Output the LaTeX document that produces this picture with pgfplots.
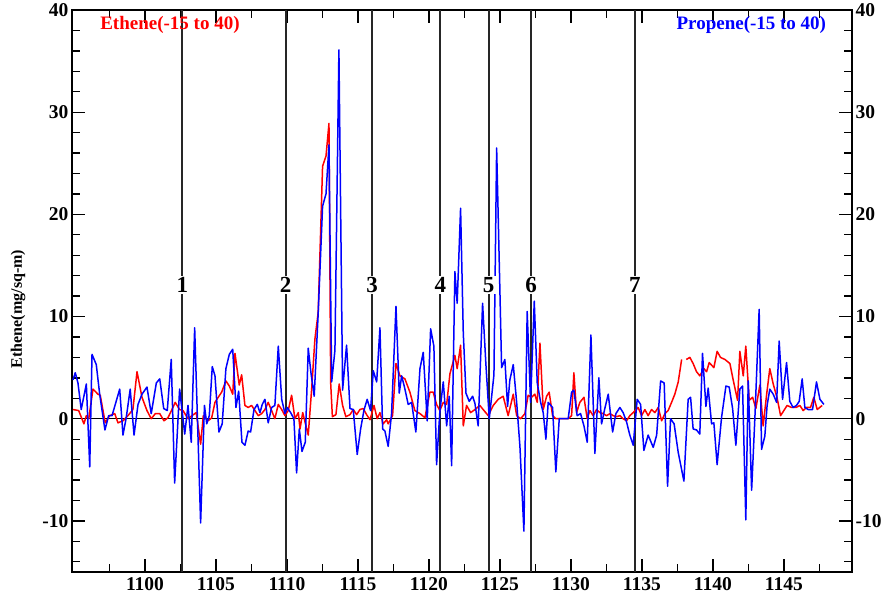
\documentclass[border=0pt]{standalone}
\usepackage{fontspec}
\setmainfont{Liberation Serif}
\usepackage{pgfplots}
\pgfplotsset{compat=1.18}
\begin{document}
\begin{tikzpicture}
\path (-72pt,-33pt) rectangle (816pt,572pt);
\begin{axis}[
  at={(0,0)}, anchor=south west,
  scale only axis, width=780pt, height=562pt,
  xmin=1094.86, xmax=1149.8, ymin=-15, ymax=40,
  xtick={1100,1105,...,1145},
  minor xtick={1097.5,1102.5,...,1147.5},
  ytick={-10,0,...,40},
  minor ytick={-14,-12,...,38},
  tick pos=both, tick align=inside,
  major tick length=13pt, minor tick length=8pt,
  axis line style={line width=1.6pt},
  every tick/.style={black, line width=1.3pt},
  unbounded coords=jump,
  /pgf/number format/assume math mode=true,
  /pgf/number format/1000 sep={},
  tick label style={font=\fontsize{19.5}{22}\selectfont\bfseries},
  xticklabel style={yshift=-2pt},
  ylabel={Ethene(mg/sq-m)},
  ylabel style={at={(axis description cs:-0.069,0.468)}, anchor=center, font=\fontsize{16}{19}\selectfont\bfseries},
]
% reference lines
\addplot[black, line width=1.2pt, forget plot] coordinates {(1094.86,0) (1149.8,0)};
\addplot[black!85, line width=2pt, forget plot] coordinates {(1102.63,-15) (1102.63,40)};
\addplot[black!85, line width=2pt, forget plot] coordinates {(1109.9,-15) (1109.9,40)};
\addplot[black!85, line width=2pt, forget plot] coordinates {(1116.0,-15) (1116.0,40)};
\addplot[black!85, line width=2pt, forget plot] coordinates {(1120.8,-15) (1120.8,40)};
\addplot[black!85, line width=2pt, forget plot] coordinates {(1124.2,-15) (1124.2,40)};
\addplot[black!85, line width=2pt, forget plot] coordinates {(1127.2,-15) (1127.2,40)};
\addplot[black!85, line width=2pt, forget plot] coordinates {(1134.5,-15) (1134.5,40)};
% Ethene (red)
\addplot[red, line width=1.5pt, line join=round] coordinates {
(1094.93,0.9) (1095.33,0.8) (1095.70,-0.5) (1095.87,0.3) (1096.04,0) (1096.34,2.9) (1096.69,2.4) (1096.85,2.3)
(1097.20,-0.4) (1097.51,0.3) (1097.87,0.5) (1098.10,-0.4) (1098.45,-0.2) (1098.80,0.3) (1099.15,0.9) (1099.44,4.6)
(1099.79,2.1) (1100.14,0.8) (1100.44,0) (1100.73,0.5) (1101.04,0.5) (1101.34,-0.2) (1101.62,0.1) (1101.90,0.9)
(1102.13,1.6) (1102.44,0.9) (1102.68,0.8) (1103.03,0) (1103.31,0.3) (1103.61,0.6) (1103.92,-2.5) (1104.11,0.3)
(1104.46,-0.2) (1104.70,0.1) (1104.93,1.6) (1105.16,2.1) (1105.40,2.6) (1105.70,3.7) (1105.94,3.2) (1106.18,2.4)
(1106.34,6.4) (1106.64,3.3) (1106.81,4.3) (1107.04,1.3) (1107.27,1.1) (1107.51,1.3) (1107.75,0.8) (1107.98,0.3)
(1108.22,0.5) (1108.45,0.9) (1108.68,1.6) (1108.92,0.8) (1109.15,0) (1109.39,1.4) (1109.63,0.9) (1109.86,0.3)
(1110.09,0.8) (1110.33,2.3) (1110.56,0) (1110.80,0.6) (1110.92,-1.0) (1111.11,0.6) (1111.34,-0.7) (1111.50,-1.6)
(1111.74,2.9) (1111.97,7.8) (1112.20,10.4) (1112.51,24.7) (1112.75,25.7) (1112.96,28.9) (1113.08,3.5) (1113.20,0.2)
(1113.45,0.4) (1113.68,3.4) (1113.92,1.3) (1114.15,0.2) (1114.44,0.4) (1114.67,0.9) (1114.91,0.4) (1115.14,0.9)
(1115.37,1.0) (1115.61,0.4) (1115.85,-0.1) (1116.13,1.3) (1116.36,0) (1116.55,0.6) (1116.78,-0.5) (1117.02,-0.1)
(1117.13,-0.5) (1117.44,0.3) (1117.68,5.4) (1117.96,4.2) (1118.31,3.9) (1118.66,2.6) (1119.01,0.8) (1119.37,0.5)
(1119.72,0.1) (1120.07,2.6) (1120.30,2.6) (1120.54,1.4) (1120.77,0.8) (1121.01,1.6) (1121.25,1.4) (1121.48,4.4)
(1121.83,6.2) (1121.99,4.9) (1122.23,7.2) (1122.42,-0.7) (1122.65,1.3) (1122.94,0.6) (1123.24,0.9) (1123.59,1.3)
(1123.82,0.9) (1124.18,0.3) (1124.53,1.3) (1124.88,1.9) (1125.23,2.2) (1125.58,0.3) (1125.94,2.4) (1126.18,0.3)
(1126.46,0) (1126.76,0.5) (1126.99,2.3) (1127.23,2.1) (1127.46,2.4) (1127.63,1.6) (1127.82,7.4) (1128.05,0.9)
(1128.29,2.2) (1128.47,2.6) (1128.71,0.3) (1128.94,0) (1129.81,0) (1130.05,0.3) (1130.21,4.5) (1130.40,0.6)
(1130.63,1.6) (1130.92,2.1) (1131.15,0) (1131.34,0.8) (1131.57,0.3) (1131.81,0.9) (1132.04,0.6) (1132.27,0.5)
(1132.51,0.3) (1132.75,0.5) (1132.98,0.3) (1133.22,0.2) (1133.45,0.3) (1133.68,0) (1133.92,-0.2) (1134.15,0.3)
(1134.39,0.6) (1134.74,1.1) (1134.98,0.3) (1135.21,0.9) (1135.44,0.3) (1135.68,0.9) (1135.92,0.6) (1136.15,1.1)
(1136.39,-0.2) (1136.62,0.5) (1136.85,0.8) (1137.09,1.6) (1137.32,2.4) (1137.56,3.6) (1137.80,5.8) (1137.95,nan)
(1138.13,5.8) (1138.38,6.0) (1138.61,5.4) (1138.85,4.6) (1139.08,4.2) (1139.37,4.9) (1139.56,4.6) (1139.74,5.5) (1140.07,5.0)
(1140.30,6.6) (1140.54,6.0) (1140.85,5.8) (1141.20,5.4) (1141.43,3.8) (1141.74,1.8) (1141.90,6.6) (1142.14,4.2)
(1142.32,7.1) (1142.56,1.8) (1142.80,2.1) (1143.03,1.0) (1143.31,3.3) (1143.54,-0.7) (1143.78,2.3) (1144.01,4.9)
(1144.25,3.4) (1144.53,2.0) (1144.77,0.3) (1145.00,0.8) (1145.23,1.3) (1145.54,1.1) (1145.85,1.1) (1146.13,1.3)
(1146.36,0.8) (1146.59,1.1) (1146.88,1.1) (1147.11,2.1) (1147.35,0.9) (1147.70,1.3)
};
% Propene (blue)
\addplot[blue, line width=1.5pt, line join=round] coordinates {
(1094.93,3.8) (1095.09,4.5) (1095.28,3.5) (1095.51,0.9) (1095.87,3.4) (1096.11,-4.7) (1096.27,6.3) (1096.57,5.3)
(1096.81,2.4) (1097.18,-1.1) (1097.44,0.3) (1097.68,0.3) (1098.22,2.9) (1098.45,-1.6) (1098.68,0.1) (1098.96,2.9)
(1099.23,-1.6) (1099.51,1.4) (1099.79,2.4) (1100.14,3.1) (1100.44,0.5) (1100.80,3.5) (1101.04,3.9) (1101.32,1.0)
(1101.57,0.8) (1101.85,5.8) (1102.09,-6.3) (1102.44,2.9) (1102.80,-1.5) (1103.03,1.3) (1103.26,-2.3) (1103.50,8.9)
(1103.92,-10.2) (1104.19,1.3) (1104.35,-0.5) (1104.53,0.3) (1104.74,5.1) (1104.93,4.2) (1105.21,-1.3) (1105.44,-0.5)
(1105.70,4.9) (1105.94,6.3) (1106.18,6.8) (1106.41,1.1) (1106.60,2.7) (1106.83,-2.3) (1107.04,-2.6) (1107.27,-1.2)
(1107.44,-1.3) (1107.68,0.9) (1107.91,1.4) (1108.10,0.6) (1108.26,1.4) (1108.45,1.9) (1108.68,-0.4) (1108.92,1.1)
(1109.15,1.3) (1109.39,7.1) (1109.63,1.9) (1109.86,0.5) (1110.02,1.1) (1110.26,0.6) (1110.49,0) (1110.68,-5.3)
(1110.87,-1.0) (1111.06,-3.2) (1111.29,-2.3) (1111.50,6.9) (1111.69,4.5) (1111.92,2.2) (1112.20,10.3) (1112.51,20.8)
(1112.75,22) (1112.96,26.8) (1113.15,3.6) (1113.38,6.7) (1113.66,36.1) (1113.92,2.8) (1114.20,7.2) (1114.44,1.0)
(1114.67,0.9) (1114.95,-3.5) (1115.19,-1.0) (1115.42,0.8) (1115.65,1.9) (1115.89,0.8) (1116.08,4.7) (1116.32,3.6)
(1116.55,8.9) (1116.74,-1.0) (1116.90,-1.2) (1117.13,-2.7) (1117.37,0.5) (1117.68,11.0) (1117.91,2.5) (1118.08,4.2)
(1118.31,2.9) (1118.54,1.4) (1118.78,1.6) (1119.08,-1.3) (1119.37,4.9) (1119.60,6.5) (1119.88,-0.2) (1120.12,8.8)
(1120.35,7.1) (1120.54,-4.5) (1120.77,0.7) (1121.01,3.6) (1121.25,-0.7) (1121.43,2.2) (1121.60,-4.6) (1121.83,14.4)
(1121.99,11.3) (1122.23,20.6) (1122.42,8.4) (1122.61,2.5) (1122.84,1.7) (1123.08,2.2) (1123.24,1.5) (1123.47,-0.7)
(1123.78,11.3) (1124.01,5.4) (1124.25,0) (1124.42,2.2) (1124.58,4.3) (1124.77,26.5) (1125.00,12.5) (1125.12,5.0)
(1125.35,5.8) (1125.54,1.2) (1125.70,3.8) (1125.94,5.3) (1126.18,1.6) (1126.41,-2.7) (1126.69,-11.0) (1126.92,10.5)
(1127.16,1.6) (1127.42,11.5) (1127.63,3.5) (1127.87,1.6) (1128.05,0.6) (1128.24,-2.0) (1128.40,1.6) (1128.71,1.1)
(1128.94,-5.2) (1129.18,0) (1129.81,0) (1130.05,2.6) (1130.21,2.8) (1130.44,0.3) (1130.68,0.5) (1130.92,-0.7)
(1131.15,-2.3) (1131.41,8.2) (1131.69,-3.4) (1131.97,4.0) (1132.16,-0.5) (1132.39,1.0) (1132.63,2.4) (1132.94,-1.3)
(1133.17,0.5) (1133.45,1.1) (1133.68,0.6) (1133.92,-0.3) (1134.15,-1.6) (1134.39,-2.6) (1134.67,1.9) (1134.91,1.4)
(1135.14,-3.1) (1135.44,-1.6) (1135.80,-2.8) (1136.04,-1.6) (1136.32,3.7) (1136.57,3.5) (1136.81,-6.6) (1137.02,0)
(1137.27,-0.5) (1137.56,-3.3) (1137.96,-6.1) (1138.26,1.9) (1138.43,2.1) (1138.61,-1.0) (1138.85,-1.1) (1139.08,-1.5)
(1139.27,6.4) (1139.51,1.2) (1139.67,3.0) (1139.91,-0.5) (1140.07,-0.4) (1140.30,-4.5) (1140.61,0.1) (1140.92,3.2)
(1141.15,3.1) (1141.39,1.0) (1141.62,-2.6) (1141.90,2.9) (1142.09,3.2) (1142.32,-9.9) (1142.49,3.7) (1142.73,-7.0)
(1142.96,0.1) (1143.26,10.7) (1143.43,-3.0) (1143.66,-1.7) (1143.82,1.3) (1144.01,2.9) (1144.25,2.4) (1144.49,1.6)
(1144.67,7.6) (1144.91,1.9) (1145.19,5.5) (1145.42,1.7) (1145.65,1.1) (1145.89,1.3) (1146.08,1.7) (1146.29,3.9)
(1146.48,1.1) (1146.71,0.9) (1147.02,0.9) (1147.30,3.6) (1147.54,1.9) (1147.82,1.4)
};
% line numbers
\begin{scope}[every node/.style={fill=white, inner sep=1.5pt, font=\fontsize{23}{25}\selectfont\bfseries}]
\node at (axis cs:1102.63,13.1) {1};
\node at (axis cs:1109.9,13.1) {2};
\node at (axis cs:1116.0,13.1) {3};
\node at (axis cs:1120.8,13.1) {4};
\node at (axis cs:1124.2,13.1) {5};
\node at (axis cs:1127.2,13.1) {6};
\node at (axis cs:1134.5,13.1) {7};
\end{scope}
\node[red, anchor=west, inner sep=0pt, font=\fontsize{19}{22}\selectfont\bfseries] at (rel axis cs:0.036,0.973) {Ethene(-15 to 40)};
\node[blue, anchor=east, inner sep=0pt, font=\fontsize{19}{22}\selectfont\bfseries] at (rel axis cs:0.967,0.973) {Propene(-15 to 40)};
\end{axis}
\begin{axis}[
  at={(0,0)}, anchor=south west,
  scale only axis, width=780pt, height=562pt,
  xmin=0, xmax=1, ymin=-15, ymax=40,
  hide x axis,
  axis y line*=right,
  ytick={-10,0,...,40},
  minor ytick={-14,-12,...,38},
  tick align=inside,
  major tick length=13pt, minor tick length=8pt,
  axis line style={line width=1.6pt},
  every tick/.style={black, line width=1.3pt},
  /pgf/number format/assume math mode=true,
  tick label style={font=\fontsize{19.5}{22}\selectfont\bfseries},
]
\end{axis}
\end{tikzpicture}
\end{document}
